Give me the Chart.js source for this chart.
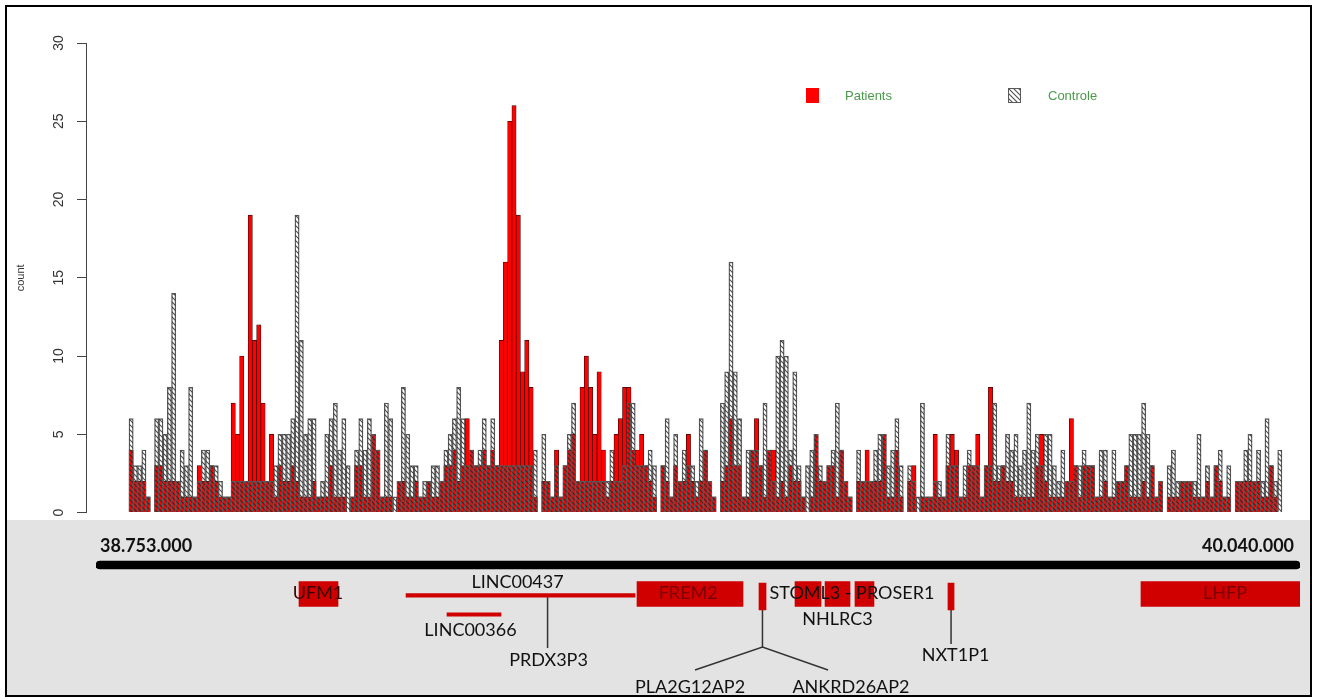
<!DOCTYPE html>
<html><head><meta charset="utf-8">
<script src="https://cdn.jsdelivr.net/npm/chart.js@4.4.1/dist/chart.umd.min.js"></script>
<style>
html,body{margin:0;padding:0;background:#fff;}
#frame{position:absolute;left:5px;top:5px;width:1303px;height:688px;border:2px solid #000;background:#fff;overflow:hidden;}
#top{position:absolute;left:0;top:0;}
#bottomWrap{position:absolute;left:0;top:513px;width:1303px;height:175px;background:#e3e3e3;}
#bottom{position:absolute;left:0;top:0;}
</style></head><body>
<div id="frame">
<canvas id="top" width="1303" height="524"></canvas>
<div id="bottomWrap"><canvas id="bottom" width="1303" height="175"></canvas></div>
</div>
<script>
// ---------------- data ----------------
const regionStart = 38753000;
const regionEnd = 40040000;

const patients = [
4,2,2,2,1,0,3,3,2,2,2,2,1,1,1,1,3,2,2,3,2,1,1,
1,7,5,10,2,19,11,12,7,2,5,1,3,2,2,3,2,1,1,1,
2,1,1,1,3,1,1,1,0,1,3,3,1,1,5,4,1,1,1,0,2,2,1,1,2,1,1,2,1,1,2,3,3,4,2,3,6,4,3,3,4,3,4,3,
11,16,25,26,19,9,11,8,
1,0,2,2,1,4,1,3,4,5,2,8,10,8,5,9,4,1,2,5,6,8,8,4,4,5,3,2,1,0,3,2,1,3,2,2,5,2,
1,2,4,2,1,0,2,3,6,3,3,1,1,4,6,3,1,4,4,1,2,1,3,2,2,1,0,1,5,2,2,3,3,1,4,2,1,0,2,2,4,2,2,2,5,1,
1,4,1,0,2,3,0,1,1,1,5,1,1,3,5,4,1,1,3,3,5,1,3,8,2,2,3,2,2,1,1,1,1,1,3,5,2,1,1,1,1,2,6,3,
1,3,3,3,1,1,2,1,1,2,2,3,1,1,1,2,1,3,1,2,0,1,1,1,2,
2,2,1,1,1,2,1,3,2,1,1,0,2,2,2,2,2,2,1,1,3,1,0
];

const controls = [
6,3,3,4,1,0,6,6,5,8,14,2,4,3,8,1,2,4,4,3,3,2,1,
1,2,2,2,2,2,2,2,2,2,2,3,5,5,5,6,19,11,5,6,
6,1,2,5,6,7,4,6,3,1,4,6,4,6,5,4,1,7,6,1,2,8,5,3,3,1,2,2,3,3,2,4,5,6,8,6,3,4,3,4,6,3,6,3,
3,3,3,3,3,3,3,3,
4,0,5,2,1,3,1,3,5,7,2,2,2,2,2,2,2,2,4,2,2,3,7,7,3,3,3,4,3,0,3,6,1,5,2,4,3,3,
2,6,4,2,1,0,7,9,16,9,6,1,4,4,4,3,7,4,2,10,11,10,4,9,3,1,3,4,5,3,2,3,4,7,4,2,1,0,4,2,2,2,4,5,5,3,
4,6,3,0,3,2,1,7,1,1,2,2,1,5,3,3,1,3,4,3,3,1,3,3,7,3,3,5,4,5,3,4,7,4,5,3,5,5,3,2,4,2,2,3,
3,4,3,3,1,4,4,1,4,2,2,3,5,5,5,7,5,3,1,2,0,3,4,2,2,
2,2,2,5,1,3,1,3,4,1,3,0,2,2,4,5,2,4,2,6,3,2,4
];

const yTicks = [0, 5, 10, 15, 20, 25, 30];

// genes (genomic coordinates)
const geneNames  = ['UFM1', 'FREM2', 'STOML3', 'NHLRC3', 'PROSER1', 'LHFP'];
const geneStarts = [38970000, 39331300, 39500200, 39532300, 39564300, 39870000];
const geneEnds   = [39011700, 39444600, 39528000, 39559000, 39584600, 40040000];

const lncNames  = ['LINC00437', 'LINC00366'];
const lncStarts = [39084400, 39128200];
const lncEnds   = [39329200, 39185900];

const pseudoNames  = ['PLA2G12AP2/ANKRD26AP2', 'NXT1P1'];
const pseudoStarts = [39461700, 39663700];
const pseudoEnds   = [39469200, 39670200];

const labelTexts = ['UFM1', 'LINC00437', 'LINC00366', 'PRDX3P3', 'FREM2', 'STOML3 - PROSER1', 'NHLRC3', 'NXT1P1', 'PLA2G12AP2', 'ANKRD26AP2', 'LHFP'];
const labelPos   = [38990300, 39203600, 39153300, 39236700, 39386000, 39561100, 39545600, 39671800, 39388000, 39560000, 39959800];

// ---------------- helpers ----------------
const binSize = (regionEnd - regionStart) / patients.length;
const binCenters = patients.map((_, i) => regionStart + (i + 0.5) * binSize);

function makeHatch() {
  const c = document.createElement('canvas');
  c.width = 5; c.height = 5;
  const g = c.getContext('2d');
  g.strokeStyle = 'rgba(35,35,35,0.8)';
  g.lineWidth = 1.1;
  g.beginPath();
  g.moveTo(-1, -1); g.lineTo(6, 6);
  g.moveTo(-1, 4); g.lineTo(1, 6);
  g.moveTo(4, -1); g.lineTo(6, 1);
  g.stroke();
  return g.createPattern(c, 'repeat');
}
function fmtDots(v) {
  return String(Math.round(v)).replace(/\B(?=(\d{3})+(?!\d))/g, '.');
}

// ---------------- top chart ----------------
const legendPlugin = {
  id: 'boxLegend',
  afterDraw(chart, args, opts) {
    const ctx = chart.ctx;
    chart.data.datasets.forEach((ds, i) => {
      const it = opts.items[i];
      ctx.save();
      ctx.fillStyle = ds.backgroundColor;
      ctx.fillRect(it.x, it.y, opts.w, opts.h);
      if (opts.outline[i]) {
        ctx.strokeStyle = ds.borderColor; ctx.lineWidth = 1;
        ctx.strokeRect(it.x + 0.5, it.y + 0.5, opts.w - 1, opts.h - 1);
      }
      ctx.fillStyle = opts.color;
      ctx.font = opts.font;
      ctx.textBaseline = 'middle';
      ctx.textAlign = 'left';
      ctx.fillText(ds.label, it.tx, it.y + opts.h / 2 + 1);
      ctx.restore();
    });
  }
};

new Chart(document.getElementById('top'), {
  type: 'bar',
  data: {
    labels: binCenters,
    datasets: [
      { label: 'Patients', data: patients, backgroundColor: '#ff0000', borderColor: '#3a0000', borderWidth: 0.7,
        grouped: false, order: 1, barPercentage: 1, categoryPercentage: 1 },
      { label: 'Controle', data: controls, backgroundColor: makeHatch(), borderColor: '#5a5a5a', borderWidth: 0.7,
        grouped: false, order: 0, barPercentage: 1, categoryPercentage: 1 }
    ]
  },
  options: {
    responsive: false, animation: false, devicePixelRatio: 1,
    layout: { padding: { top: 36, bottom: 0, left: 0, right: 20 } },
    plugins: {
      legend: { display: false }, tooltip: { enabled: false },
      boxLegend: {
        items: [{ x: 799, y: 81, tx: 838 }, { x: 1001, y: 81, tx: 1041 }],
        outline: [false, true],
        w: 13, h: 15, color: '#4a9a4a', font: '13px "Liberation Sans", Arial, sans-serif'
      }
    },
    scales: {
      x: { type: 'linear', min: 38705000, max: 40049000, display: false, offset: false },
      y: {
        min: 0, max: 30, offset: false,
        afterFit: s => { s.width = 79; },
        afterBuildTicks: s => { s.ticks = yTicks.map(v => ({ value: v })); },
        ticks: { minRotation: 90, maxRotation: 90, crossAlign: 'center', padding: 10, color: '#333',
                 font: { family: '"Liberation Sans", Arial, sans-serif', size: 14 } },
        grid: { display: true, drawOnChartArea: false, drawTicks: true, tickLength: 9, color: '#444', lineWidth: 1 },
        border: { display: true, color: '#444', width: 1 },
        title: { display: true, text: 'count', color: '#333',
                 font: { family: '"Liberation Sans", Arial, sans-serif', size: 11 }, padding: { top: 7, bottom: 0 } }
      }
    }
  },
  plugins: [legendPlugin]
});

// ---------------- bottom (gene track) chart ----------------
const lanes = { axis: 0.85, box: 3.78, marker: 4.04, lnc1: 3.93, lnc2: 5.86 };
const labelLanes = [3.68, 2.57, 7.43, 10.46, 3.68, 3.68, 6.31, 9.96, 13.19, 13.19, 3.68];
const labelColors = ['#3b0000', '#111', '#111', '#111', '#7a0000', '#111', '#111', '#111', '#111', '#111', '#7a0000'];
const connectors = [
  [[39235700, 3.93], [39235700, 9.25]],
  [[39465400, 5.40], [39465400, 9.15]],
  [[39393300, 11.47], [39465400, 9.15], [39535500, 11.47]],
  [[39667000, 5.40], [39667000, 8.84]]
];
const geneRed = '#d10000';

const genePlugin = {
  id: 'geneLabels',
  beforeDatasetsDraw(chart) {
    const { ctx, scales: { x, y } } = chart;
    ctx.save();
    ctx.strokeStyle = '#333'; ctx.lineWidth = 1.5;
    connectors.forEach(path => {
      ctx.beginPath();
      path.forEach((p, k) => {
        const px = x.getPixelForValue(p[0]), py = y.getPixelForValue(p[1]);
        if (k) ctx.lineTo(px, py); else ctx.moveTo(px, py);
      });
      ctx.stroke();
    });
    ctx.restore();
  },
  afterDatasetsDraw(chart) {
    const { ctx, scales: { x, y } } = chart;
    ctx.save();
    ctx.font = '18px Lato, "Open Sans", sans-serif';
    ctx.textAlign = 'center'; ctx.textBaseline = 'middle';
    labelTexts.forEach((t, i) => {
      ctx.fillStyle = labelColors[i];
      ctx.fillText(t, x.getPixelForValue(labelPos[i]), y.getPixelForValue(labelLanes[i]));
    });
    ctx.restore();
  }
};

const coordLabelInset = [4300, 6400]; // label inset from the region ends (bp)

new Chart(document.getElementById('bottom'), {
  type: 'bar',
  data: {
    datasets: [
      { label: 'chromosome', data: [{ x: [regionStart, regionEnd], y: lanes.axis }], backgroundColor: '#000',
        barThickness: 8, borderRadius: 4, borderSkipped: false, stack: 'g' },
      { label: 'genes', data: geneNames.map((n, i) => ({ x: [geneStarts[i], geneEnds[i]], y: lanes.box })),
        backgroundColor: geneRed, barThickness: 25, stack: 'g' },
      { label: 'pseudogenes', data: pseudoNames.map((n, i) => ({ x: [pseudoStarts[i], pseudoEnds[i]], y: lanes.marker })),
        backgroundColor: geneRed, barThickness: 27, stack: 'g' },
      { label: 'lncRNA', data: [
          { x: [lncStarts[0], lncEnds[0]], y: lanes.lnc1 },
          { x: [lncStarts[1], lncEnds[1]], y: lanes.lnc2 }],
        backgroundColor: geneRed, barThickness: 3.5, stack: 'g' }
    ]
  },
  options: {
    indexAxis: 'y', responsive: false, animation: false, devicePixelRatio: 1,
    layout: { padding: { top: 15, left: 89, right: 10, bottom: 0 } },
    plugins: { legend: { display: false }, tooltip: { enabled: false } },
    scales: {
      x: {
        type: 'linear', position: 'top', min: regionStart, max: regionEnd, stacked: false, offset: false,
        afterBuildTicks: s => { s.ticks = [{ value: regionStart + coordLabelInset[0] }, { value: regionEnd - coordLabelInset[1] }]; },
        ticks: { align: 'inner', padding: 0, color: '#111', maxRotation: 0, autoSkip: false,
                 font: { family: 'Lato, "Open Sans", sans-serif', size: 18, weight: 'bold' },
                 callback: (v, i) => fmtDots(i === 0 ? regionStart : regionEnd) },
        grid: { display: false, drawTicks: false },
        border: { display: false }
      },
      y: { type: 'linear', min: 0, max: 14, reverse: true, display: false, offset: false }
    }
  },
  plugins: [genePlugin]
});
</script>
</body></html>
